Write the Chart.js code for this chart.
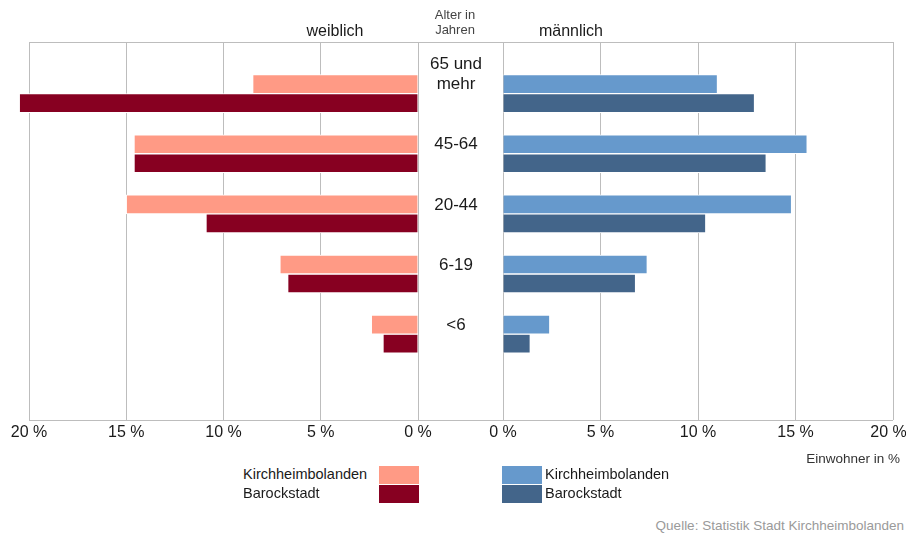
<!DOCTYPE html>
<html lang="de">
<head>
<meta charset="utf-8">
<title>Bevölkerung nach Alter</title>
<script src="https://cdn.jsdelivr.net/npm/chart.js@4.4.1/dist/chart.umd.min.js"></script>
<style>
  html, body { margin: 0; padding: 0; background: #fff; }
  body {
    position: relative; width: 906px; height: 536px; overflow: hidden;
    font-family: "Liberation Sans", Arial, sans-serif; color: #1a1a1a;
  }
  canvas, .txt, .sw { position: absolute; }
  .txt { white-space: nowrap; }
  .title { font-size: 16px; line-height: 20px; top: 21px; width: 120px; text-align: center; }
  .age-head { left: 415px; top: 7px; width: 80px; text-align: center; font-size: 13px; line-height: 15px; color: #444; }
  .legend { font-size: 14.5px; line-height: 19px; }
  .unit { right: 6px; top: 451px; font-size: 13.5px; color: #333; }
  .source { right: 2px; top: 518px; font-size: 13.5px; color: #9a9a9a; }
</style>
</head>
<body>
<canvas id="chart-w" width="440" height="450" style="left:0;top:0"></canvas>
<canvas id="chart-m" width="500" height="450" style="left:418px;top:0"></canvas>

<div class="txt title" style="left:275px">weiblich</div>
<div class="txt title" style="left:511px">männlich</div>
<div class="txt age-head">Alter in<br>Jahren</div>
<div class="txt unit">Einwohner in %</div>
<div class="txt source">Quelle: Statistik Stadt Kirchheimbolanden</div>
<div id="legend"></div>

<script>
// Altersgruppen (von oben nach unten) und Werte in Prozent
const ageGroups = [['65 und', 'mehr'], '45-64', '20-44', '6-19', '<6'];
const pctTicks = [0, 5, 10, 15, 20];
const seriesNames = ['Kirchheimbolanden', 'Barockstadt'];

const femaleKib = [8.5, 14.6, 15.0, 7.1, 2.4];
const femaleBarock = [20.5, 14.6, 10.9, 6.7, 1.8];
const maleKib = [11.0, 15.6, 14.8, 7.4, 2.4];
const maleBarock = [12.9, 13.5, 10.4, 6.8, 1.4];

const colors = {
  femaleKib: '#FF9A85',
  femaleBarock: '#870021',
  maleKib: '#6699CC',
  maleBarock: '#43658A'
};
const gridColor = '#bdbdbd';

Chart.defaults.font.family = '"Liberation Sans", Arial, sans-serif';
Chart.defaults.color = '#1a1a1a';

// top and bottom lines of the frame (the gridlines give the verticals)
const frameLines = {
  id: 'frameLines',
  beforeDatasetsDraw(chart, args, opts) {
    const a = chart.chartArea;
    const left = opts.fromAxis ? chart.scales.y.left : a.left;
    const ctx = chart.ctx;
    ctx.save();
    ctx.strokeStyle = gridColor;
    ctx.lineWidth = 1;
    ctx.beginPath();
    ctx.moveTo(left, Math.round(a.top) + 0.5);
    ctx.lineTo(a.right, Math.round(a.top) + 0.5);
    ctx.moveTo(left, Math.round(a.bottom) + 0.5);
    ctx.lineTo(a.right, Math.round(a.bottom) + 0.5);
    ctx.stroke();
    ctx.restore();
  }
};

function toPoints(values) {
  return values.map((v, i) => ({ x: v, y: i }));
}

function makeDataset(label, values, color) {
  return {
    label,
    data: toPoints(values),
    backgroundColor: color,
    borderColor: '#ffffff',
    borderWidth: 1,
    borderSkipped: 'start',
    barThickness: 19,
    clip: false
  };
}

function xScale(reverse, lastPad) {
  return {
    type: 'linear',
    min: pctTicks[0],
    max: pctTicks[pctTicks.length - 1],
    reverse,
    afterBuildTicks: s => { s.ticks = pctTicks.map(v => ({ value: v })); },
    afterFit: s => { s.height = 30; s.paddingLeft = 0; s.paddingRight = 0; },
    grid: { color: gridColor, drawTicks: false },
    border: { display: false },
    ticks: {
      padding: 3,
      font: { size: 16 },
      color: '#1a1a1a',
      callback: v => v + ' %' + (lastPad && v === pctTicks[pctTicks.length - 1] ? '\u00a0\u00a0' : '')
    }
  };
}

const yBase = {
  type: 'linear',
  reverse: true,
  offset: false,
  min: -0.86,
  max: 5.43,
  afterBuildTicks: s => { s.ticks = ageGroups.map((_, i) => ({ value: i })); }
};

const commonOptions = {
  responsive: false,
  animation: false,
  indexAxis: 'y',
  plugins: { legend: { display: false }, tooltip: { enabled: false } }
};

new Chart(document.getElementById('chart-w'), {
  type: 'bar',
  data: {
    datasets: [
      makeDataset(seriesNames[0], femaleKib, colors.femaleKib),
      makeDataset(seriesNames[1], femaleBarock, colors.femaleBarock)
    ]
  },
  options: {
    ...commonOptions,
    layout: { padding: { left: 29, right: 22, top: 42, bottom: 0 } },
    plugins: { ...commonOptions.plugins, frameLines: { fromAxis: false } },
    scales: {
      x: xScale(true, false),
      y: { ...yBase, display: false, grid: { offset: false } }
    }
  },
  plugins: [frameLines]
});

new Chart(document.getElementById('chart-m'), {
  type: 'bar',
  data: {
    datasets: [
      makeDataset(seriesNames[0], maleKib, colors.maleKib),
      makeDataset(seriesNames[1], maleBarock, colors.maleBarock)
    ]
  },
  options: {
    ...commonOptions,
    layout: { padding: { left: 0, right: 25, top: 42, bottom: 0 } },
    plugins: { ...commonOptions.plugins, frameLines: { fromAxis: true } },
    scales: {
      x: xScale(false, true),
      y: {
        ...yBase,
        position: 'left',
        afterFit: s => { s.width = 85; s.paddingTop = 0; s.paddingBottom = 0; },
        grid: { display: false, drawTicks: false, offset: false },
        border: { display: false },
        ticks: {
          crossAlign: 'center',
          padding: 21,
          labelOffset: -9,
          font: { size: 17, lineHeight: 1.18 },
          color: '#1a1a1a',
          callback: v => {
            const l = ageGroups[v];
            return Array.isArray(l) ? [...l, ''] : l;
          }
        }
      }
    }
  },
  plugins: [frameLines]
});

// legend: text left of swatch for women, swatch left of text for men
const legend = document.getElementById('legend');
function addEl(cls, style, text) {
  const d = document.createElement('div');
  d.className = cls;
  Object.assign(d.style, style);
  if (text) d.textContent = text;
  legend.appendChild(d);
}
const femaleColors = [colors.femaleKib, colors.femaleBarock];
const maleColors = [colors.maleKib, colors.maleBarock];
seriesNames.forEach((name, i) => {
  const top = 466 + i * 19;
  addEl('txt legend', { left: '243px', top: (top - 1) + 'px' }, name);
  addEl('sw', { left: '379px', top: top + 'px', width: '40px', height: '18px', background: femaleColors[i] });
  addEl('sw', { left: '502px', top: top + 'px', width: '40px', height: '18px', background: maleColors[i] });
  addEl('txt legend', { left: '545px', top: (top - 1) + 'px' }, name);
});
</script>
</body>
</html>
